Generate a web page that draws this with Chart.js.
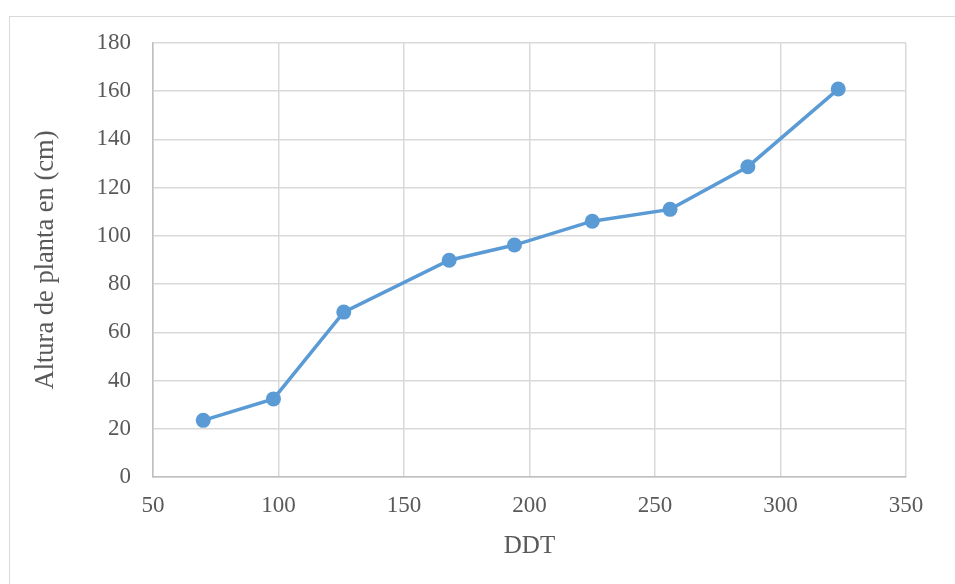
<!DOCTYPE html>
<html>
<head>
<meta charset="utf-8">
<script src="https://cdn.jsdelivr.net/npm/chart.js@4"></script>
<style>
  body { margin: 0; background: #fff; overflow: hidden; }
  #wrap { position: relative; width: 955px; height: 584px; }
  #frame { position: absolute; left: 9px; top: 16px; width: 960px; height: 600px; border: 1px solid #d9d9d9; }
  canvas { position: absolute; left: 0; top: 0; }
</style>
</head>
<body>
<div id="wrap">
  <div id="frame"></div>
  <canvas id="myChart" width="955" height="584"></canvas>
</div>
<script>
// DDT (dias despues del trasplante) and plant height in cm
var ddt = [70, 98, 126, 168, 194, 225, 256, 287, 323];
var altura = [23.5, 32.4, 68.4, 89.9, 96.2, 106.1, 111, 128.7, 160.9];
var xTitle = 'DDT';
var yTitle = 'Altura de planta en (cm)';

var lineColor = '#5b9bd5';
var textColor = '#595959';
var gridColor = '#d9d9d9';

var points = ddt.map(function (d, i) { return { x: d, y: altura[i] }; });

var canvas = document.getElementById('myChart');
var ctx = canvas.getContext('2d');

new Chart(ctx, {
    type: 'scatter',
    data: {
        datasets: [{
            data: points,
            showLine: true,
            borderColor: lineColor,
            backgroundColor: lineColor,
            borderWidth: 3.5,
            pointRadius: 7.5,
            pointHoverRadius: 7.5,
            pointBorderWidth: 0
        }]
    },
    options: {
        responsive: false,
        animation: false,
        layout: {
            padding: { left: 0, top: 43, right: 49, bottom: 0 }
        },
        plugins: {
            legend: { display: false },
            tooltip: { enabled: false }
        },
        scales: {
            x: {
                type: 'linear',
                min: 50,
                max: 350,
                afterFit: function (scale) { scale.height = 107; },
                ticks: {
                    stepSize: 50,
                    color: textColor,
                    padding: 15,
                    font: { family: 'Liberation Serif', size: 23 }
                },
                grid: { color: gridColor, lineWidth: 1.5, drawTicks: false },
                border: { color: '#bfbfbf', width: 1.5 },
                title: {
                    display: true,
                    text: xTitle,
                    color: textColor,
                    padding: { top: 0, bottom: 23 },
                    font: { family: 'Liberation Serif', size: 25, weight: 'normal' }
                }
            },
            y: {
                min: 0,
                max: 180,
                afterFit: function (scale) { scale.width = 153; },
                ticks: {
                    stepSize: 20,
                    color: textColor,
                    padding: 22,
                    font: { family: 'Liberation Serif', size: 23 }
                },
                grid: { color: gridColor, lineWidth: 1.5, drawTicks: false },
                border: { color: '#bfbfbf', width: 1.5 },
                title: {
                    display: true,
                    text: yTitle,
                    color: textColor,
                    padding: { top: 30, bottom: 0 },
                    font: { family: 'Liberation Serif', size: 26.5, weight: 'normal' }
                }
            }
        }
    }
});
</script>
</body>
</html>
